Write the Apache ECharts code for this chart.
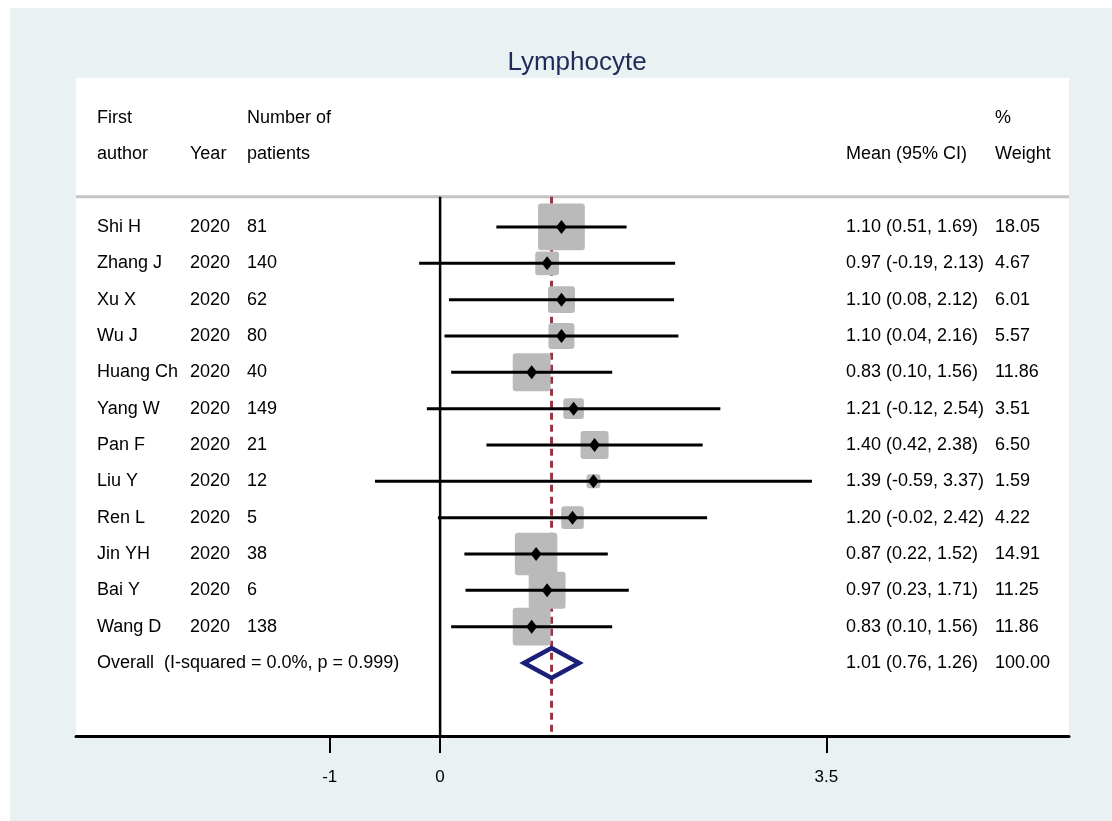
<!DOCTYPE html>
<html>
<head>
<meta charset="utf-8">
<script src="https://cdn.jsdelivr.net/npm/echarts@6/dist/echarts.min.js"></script>
<style>
html,body{margin:0;padding:0;background:#ffffff;}
#chart{width:1112px;height:821px;}
</style>
</head>
<body>
<div id="chart"></div>
<script>
// ---- data ----
const authors  = ['Shi H','Zhang J','Xu X','Wu J','Huang Ch','Yang W','Pan F','Liu Y','Ren L','Jin YH','Bai Y','Wang D'];
const years    = [2020,2020,2020,2020,2020,2020,2020,2020,2020,2020,2020,2020];
const patients = [81,140,62,80,40,149,21,12,5,38,6,138];
const means    = [1.10,0.97,1.10,1.10,0.83,1.21,1.40,1.39,1.20,0.87,0.97,0.83];
const lowers   = [0.51,-0.19,0.08,0.04,0.10,-0.12,0.42,-0.59,-0.02,0.22,0.23,0.10];
const uppers   = [1.69,2.13,2.12,2.16,1.56,2.54,2.38,3.37,2.42,1.52,1.71,1.56];
const weights  = [18.05,4.67,6.01,5.57,11.86,3.51,6.50,1.59,4.22,14.91,11.25,11.86];
const overallMean = 1.01, overallLower = 0.76, overallUpper = 1.26, overallWeight = 100.00;
const overallLabel = 'Overall  (I-squared = 0.0%, p = 0.999)';
const headerTop = ['First', '', 'Number of', '', '%'];
const headerBottom = ['author', 'Year', 'patients', 'Mean (95% CI)', 'Weight'];
const xTicks = [-1, 0, 3.5];
const titleText = 'Lymphocyte';

// ---- layout ----
const X_MIN = -3.3, X_MAX = 5.7;
const Y_MIN = -3.1, Y_MAX = 15.01;
const SEP_Y = 0.17;
const cols = [97, 190, 247, 846, 995];
const FONT = '"Liberation Sans", Arial, Helvetica, sans-serif';
const FS = 18;

const nStudies = authors.length;
const studyRows = authors.map((_, i) => i + 1);
const overallRow = nStudies + 1;

function fmt(v){ return v.toFixed(2); }

// table rows (text)
const tableRows = [];
tableRows.push({row: -2, cells: headerTop});
tableRows.push({row: -1, cells: headerBottom});
for (let i = 0; i < nStudies; i++) {
  tableRows.push({row: studyRows[i], cells: [authors[i], String(years[i]), String(patients[i]),
    fmt(means[i]) + ' (' + fmt(lowers[i]) + ', ' + fmt(uppers[i]) + ')', fmt(weights[i])]});
}
tableRows.push({row: overallRow, cells: [overallLabel, '', '',
  fmt(overallMean) + ' (' + fmt(overallLower) + ', ' + fmt(overallUpper) + ')', fmt(overallWeight)]});

const studyData = authors.map((a, i) => [means[i], studyRows[i], lowers[i], uppers[i], weights[i]]);

const chart = echarts.init(document.getElementById('chart'));
chart.setOption({
  animation: false,
  backgroundColor: '#ffffff',
  graphic: [{
    type: 'rect', left: 10, top: 8, z: -10, silent: true,
    shape: {width: 1102, height: 813},
    style: {fill: '#e9f1f3'}
  }],
  title: {
    text: titleText, left: 572, top: 45, textAlign: 'center',
    textStyle: {fontFamily: FONT, fontSize: 26, fontWeight: 'normal', color: '#1f2b58'}
  },
  grid: {left: 76, right: 43, top: 78, bottom: 85, show: true, backgroundColor: '#ffffff', borderWidth: 0},
  xAxis: {
    type: 'value', min: X_MIN, max: X_MAX,
    axisLine: {show: true, onZero: false, lineStyle: {color: '#000', width: 3}},
    axisTick: {show: true, customValues: xTicks, length: 17, lineStyle: {color: '#000', width: 2}},
    axisLabel: {show: true, customValues: xTicks, margin: 33, color: '#000', fontFamily: FONT, fontSize: 17},
    splitLine: {show: false}
  },
  yAxis: {type: 'value', inverse: true, min: Y_MIN, max: Y_MAX, show: false, splitLine: {show: false}},
  series: [
    { // header separator
      type: 'line', symbol: 'none', z: 1, silent: true,
      data: [[X_MIN, SEP_Y], [X_MAX, SEP_Y]],
      lineStyle: {color: '#c4c4c4', width: 3}
    },
    { // overall dashed line
      type: 'line', symbol: 'none', z: 2, silent: true,
      data: [[overallMean, SEP_Y], [overallMean, Y_MAX]],
      lineStyle: {color: '#983444', width: 3, type: [7, 5]}
    },
    { // zero line
      type: 'line', symbol: 'none', z: 3, silent: true,
      data: [[0, SEP_Y], [0, Y_MAX]],
      lineStyle: {color: '#000', width: 2.5}
    },
    { // study boxes, CIs, point markers
      type: 'custom', z: 4, silent: true,
      data: studyData,
      encode: {x: 0, y: 1},
      renderItem: function (params, api) {
        const m = api.value(0), r = api.value(1), lo = api.value(2), hi = api.value(3), w = api.value(4);
        const c = api.coord([m, r]);
        const pLo = api.coord([lo, r]);
        const pHi = api.coord([hi, r]);
        const s = 11 * Math.sqrt(w);
        return {
          type: 'group',
          children: [
            {type: 'rect', shape: {x: c[0] - s / 2, y: c[1] - s / 2, width: s, height: s, r: 3},
             style: {fill: '#bababa'}},
            {type: 'line', shape: {x1: pLo[0], y1: pLo[1], x2: pHi[0], y2: pHi[1]},
             style: {stroke: '#000', lineWidth: 3}},
            {type: 'polygon', shape: {points: [[c[0] - 5.5, c[1]], [c[0], c[1] - 7], [c[0] + 5.5, c[1]], [c[0], c[1] + 7]]},
             style: {fill: '#000'}}
          ]
        };
      }
    },
    { // overall diamond
      type: 'custom', z: 5, silent: true,
      data: [[overallMean, overallRow, overallLower, overallUpper]],
      encode: {x: 0, y: 1},
      renderItem: function (params, api) {
        const m = api.value(0), r = api.value(1), lo = api.value(2), hi = api.value(3);
        const c = api.coord([m, r]);
        const pLo = api.coord([lo, r]);
        const pHi = api.coord([hi, r]);
        const h = 15;
        return {
          type: 'polygon',
          shape: {points: [[pLo[0], c[1]], [c[0], c[1] - h], [pHi[0], c[1]], [c[0], c[1] + h]]},
          style: {fill: 'none', stroke: '#1b1f7a', lineWidth: 4.5, lineJoin: 'miter'}
        };
      }
    },
    { // table text
      type: 'custom', z: 6, silent: true,
      data: tableRows.map(t => [0, t.row]),
      encode: {x: 0, y: 1},
      clip: false,
      renderItem: function (params, api) {
        const t = tableRows[params.dataIndex];
        const y = api.coord([0, api.value(1)])[1];
        const children = [];
        t.cells.forEach((txt, k) => {
          if (!txt) return;
          children.push({
            type: 'text', x: cols[k], y: y,
            style: {text: txt, fill: '#000', fontFamily: FONT, fontSize: FS, verticalAlign: 'middle', align: 'left'}
          });
        });
        return {type: 'group', children: children};
      }
    }
  ]
});
</script>
</body>
</html>
